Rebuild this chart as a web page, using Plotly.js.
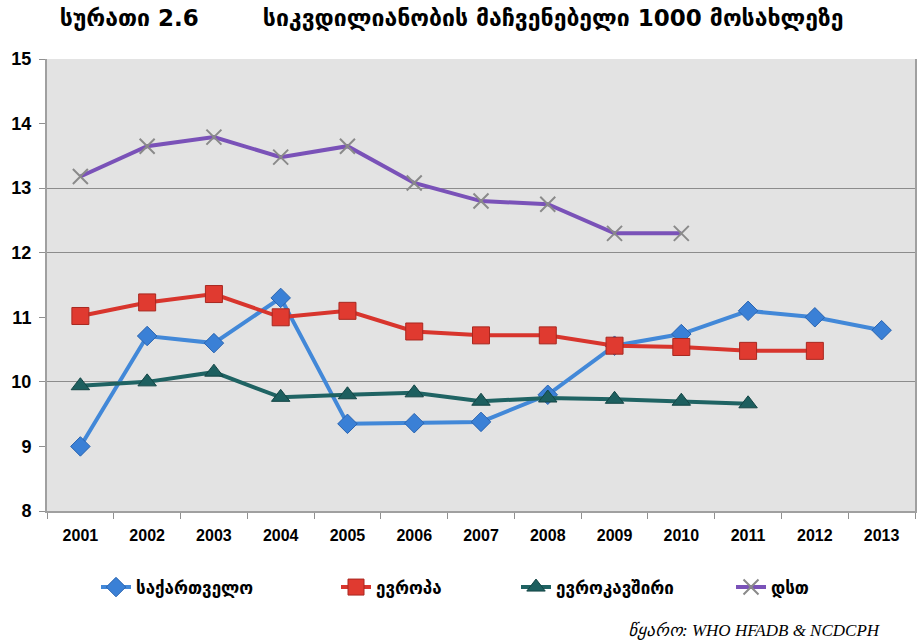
<!DOCTYPE html>
<html>
<head>
<meta charset="utf-8">
<script src="https://cdn.plot.ly/plotly-3.0.1.min.js"></script>
<style>html,body{margin:0;padding:0;background:#fff;}#chart{width:918px;height:640px;}</style>
</head>
<body>
<div id="chart"></div>
<script>
const years = ["2001","2002","2003","2004","2005","2006","2007","2008","2009","2010","2011","2012","2013"];
const georgia = [9.0, 10.71, 10.6, 11.3, 9.35, 9.36, 9.38, 9.8, 10.56, 10.74, 11.1, 11.0, 10.8];
const europe = [11.02, 11.23, 11.36, 11.0, 11.1, 10.78, 10.72, 10.72, 10.56, 10.54, 10.48, 10.48];
const eu = [9.94, 10.0, 10.15, 9.76, 9.8, 9.83, 9.7, 9.75, 9.73, 9.7, 9.66];
const cis = [13.18, 13.65, 13.79, 13.48, 13.65, 13.08, 12.8, 12.75, 12.3, 12.3];
const seriesNames = ["საქართველო", "ევროპა", "ევროკავშირი", "დსთ"];
const titleText = "სურათი 2.6&nbsp;&nbsp;&nbsp;&nbsp;&nbsp;&nbsp;&nbsp;&nbsp;სიკვდილიანობის მაჩვენებელი 1000 მოსახლეზე";
const sourceText = "წყარო: WHO HFADB &amp; NCDCPH";

const traces = [
  {x: years.slice(0, georgia.length), y: georgia, name: seriesNames[0], legend: "legend", type: "scatter", mode: "lines+markers",
   line: {color: "#4288d8", width: 4}, marker: {symbol: "diamond", size: 15, color: "#3a80d6", line: {color: "#2a64b0", width: 1}}},
  {x: years.slice(0, europe.length), y: europe, name: seriesNames[1], legend: "legend2", type: "scatter", mode: "lines+markers",
   line: {color: "#d8352d", width: 4}, marker: {symbol: "square", size: 17, color: "#e03a30", line: {color: "#a82820", width: 1}}},
  {x: years.slice(0, eu.length), y: eu, name: seriesNames[2], legend: "legend3", type: "scatter", mode: "lines+markers",
   line: {color: "#1f6363", width: 4}, marker: {symbol: "triangle-up", size: 16, color: "#1d5f5f", line: {color: "#144545", width: 1}}},
  {x: years.slice(0, cis.length), y: cis, name: seriesNames[3], legend: "legend4", type: "scatter", mode: "lines+markers",
   line: {color: "#7a52b8", width: 4}, marker: {symbol: "x-thin-open", size: 15, color: "#8a8a8a", line: {color: "#8a8a8a", width: 2}}},
  {x: years, y: years.map(() => null), yaxis: "y2", showlegend: false, hoverinfo: "skip", type: "scatter", mode: "lines"}
];

function leg(xpx) {
  return {orientation: "h", xref: "container", yref: "container", x: xpx / 918, y: 0.082, xanchor: "left", yanchor: "middle",
          font: {family: "DejaVu Sans", size: 17, color: "#000", weight: "bold"}, bgcolor: "rgba(0,0,0,0)", itemwidth: 30};
}

const layout = {
  width: 918, height: 640,
  paper_bgcolor: "#ffffff",
  plot_bgcolor: "#e3e3e3",
  margin: {l: 47, r: 3, t: 59, b: 129},
  title: {text: titleText, font: {family: "DejaVu Sans", size: 23, color: "#000", weight: "bold"},
          x: 0.065, xanchor: "left", xref: "container", y: 0.972, yanchor: "middle", yref: "container"},
  xaxis: {type: "category", range: [-0.5, 12.5], tickson: "boundaries", ticks: "outside", ticklen: 6,
          tickcolor: "#909090", showgrid: false, showline: true, linecolor: "#a0a0a0", linewidth: 2, mirror: false,
          ticklabelstandoff: 9,
          tickfont: {family: "Liberation Sans", size: 16, color: "#000", weight: "bold"}, zeroline: false},
  yaxis: {range: [8, 15], dtick: 1, ticks: "outside", ticklen: 6, tickcolor: "#909090", showgrid: false,
          showline: true, linecolor: "#a0a0a0", linewidth: 2, mirror: true, zeroline: false,
          ticklabelstandoff: 4,
          tickfont: {family: "Liberation Sans", size: 18, color: "#000", weight: "bold"}},
  yaxis2: {range: [8, 15], overlaying: "y", tickvals: [10, 12, 13], showticklabels: false, ticks: "",
           showgrid: true, gridcolor: "#8c8c8c", gridwidth: 1, zeroline: false, showline: false},
  showlegend: true,
  legend: leg(96),
  legend2: leg(336),
  legend3: leg(516),
  legend4: leg(731),
  annotations: [{text: sourceText, xref: "paper", yref: "paper", x: 0.963, y: -0.265, xanchor: "right", yanchor: "middle",
                 showarrow: false, font: {family: "Liberation Serif", size: 17, color: "#000", style: "italic"}}]
};

Plotly.newPlot("chart", traces, layout, {displayModeBar: false, staticPlot: true});
</script>
</body>
</html>
